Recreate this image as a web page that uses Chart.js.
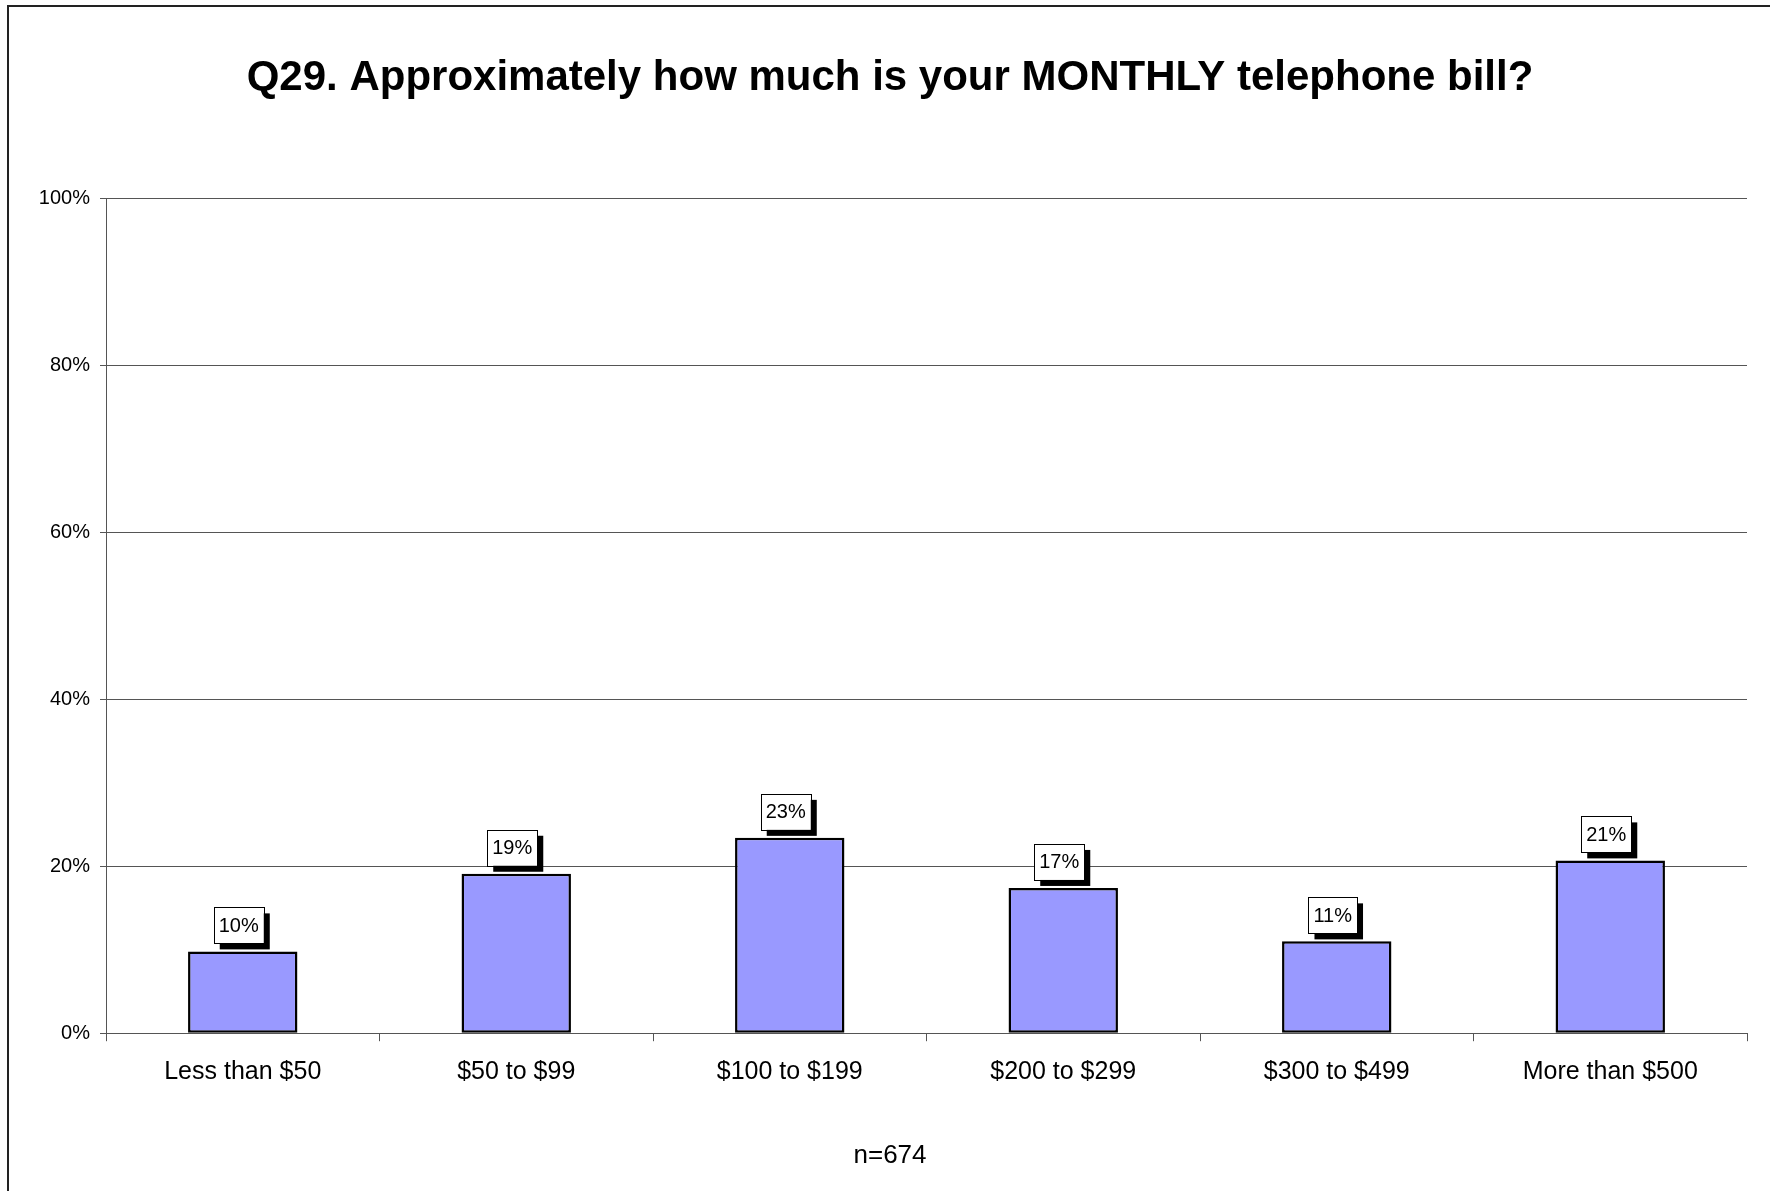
<!DOCTYPE html>
<html>
<head>
<meta charset="utf-8">
<script src="https://cdn.jsdelivr.net/npm/chart.js@4.4.0/dist/chart.umd.min.js"></script>
<style>
    html, body { margin: 0; padding: 0; background: #fff; overflow: hidden; }
    #wrap { width: 1770px; height: 1191px; }
</style>
</head>
<body>
<div id="wrap"><canvas id="chart" width="1770" height="1191"></canvas></div>
<script>
    // values
    var categories = ["Less than $50", "$50 to $99", "$100 to $199", "$200 to $299", "$300 to $499", "More than $500"];
    var shares = [9.8, 19.1, 23.4, 17.4, 11.0, 20.7];
    var yTicks = [0, 20, 40, 60, 80, 100];
    var titleText = "Q29. Approximately how much is your MONTHLY telephone bill?";
    var noteText = "n=674";

    var FONT = "'Liberation Sans', Arial, sans-serif";

    // outer frame, only the left and top edges show in the picture
    var framePlugin = {
        id: "frame",
        beforeDraw: function(chart) {
            var ctx = chart.ctx;
            ctx.save();
            ctx.fillStyle = "#fff";
            ctx.fillRect(0, 0, chart.width, chart.height);
            ctx.strokeStyle = "#222";
            ctx.lineWidth = 2;
            ctx.beginPath();
            ctx.moveTo(8, chart.height);
            ctx.lineTo(8, 6);
            ctx.lineTo(chart.width, 6);
            ctx.stroke();
            ctx.restore();
        }
    };

    // boxed value labels with a black drop shadow
    var boxLabelPlugin = {
        id: "boxLabels",
        afterDatasetsDraw: function(chart) {
            var ctx = chart.ctx;
            var meta = chart.getDatasetMeta(0);
            var data = chart.data.datasets[0].data;
            ctx.save();
            ctx.font = "20px " + FONT;
            ctx.textAlign = "center";
            ctx.textBaseline = "middle";
            meta.data.forEach(function(bar, i) {
                var text = Math.round(data[i]) + "%";
                var w = ctx.measureText(text).width + 10;
                var h = 36;
                var cx = bar.x - 4;
                var y1 = bar.y - 8;
                var x0 = cx - w / 2;
                var y0 = y1 - h;
                ctx.fillStyle = "#000";
                ctx.fillRect(x0 + 6, y0 + 6, w, h);
                ctx.fillStyle = "#fff";
                ctx.fillRect(x0, y0, w, h);
                ctx.strokeStyle = "#000";
                ctx.lineWidth = 1;
                ctx.strokeRect(Math.round(x0) + 0.5, Math.round(y0) + 0.5, Math.round(w), h);
                ctx.fillStyle = "#000";
                ctx.fillText(text, cx, y0 + h / 2 + 1);
            });
            ctx.restore();
        }
    };

    var chart = new Chart(document.getElementById("chart"), {
        type: "bar",
        data: {
            labels: categories,
            datasets: [
                {
                    data: shares,
                    backgroundColor: "#9999FF",
                    borderColor: "#000",
                    borderWidth: 2.5,
                    borderSkipped: false,
                    categoryPercentage: 1.0,
                    barPercentage: 0.4
                }
            ]
        },
        plugins: [framePlugin, boxLabelPlugin],
        options: {
            responsive: false,
            animation: false,
            devicePixelRatio: 1,
            layout: {
                padding: { left: 33, right: 23, top: 0, bottom: 0 }
            },
            plugins: {
                legend: { display: false },
                tooltip: { enabled: false },
                title: {
                    display: true,
                    text: titleText,
                    color: "#000",
                    font: { family: FONT, size: 42, weight: "bold" },
                    padding: { top: 53, bottom: 95 }
                },
                subtitle: {
                    display: true,
                    position: "bottom",
                    text: noteText,
                    color: "#000",
                    font: { family: FONT, size: 26 },
                    padding: { top: 27, bottom: 19.6 }
                }
            },
            scales: {
                x: {
                    offset: true,
                    grid: {
                        offset: true,
                        drawOnChartArea: false,
                        drawTicks: true,
                        tickLength: 8,
                        color: "#555"
                    },
                    border: { color: "#555", width: 1 },
                    ticks: {
                        color: "#000",
                        font: { family: FONT, size: 25 },
                        padding: 16,
                        maxRotation: 0
                    },
                    afterFit: function(scale) {
                        scale.height = 80;
                    }
                },
                y: {
                    min: 0,
                    max: 100,
                    afterBuildTicks: function(scale) {
                        scale.ticks = yTicks.map(function(v) { return { value: v }; });
                    },
                    grid: {
                        color: "#555",
                        tickLength: 6
                    },
                    border: { color: "#555", width: 1 },
                    ticks: {
                        color: "#000",
                        font: { family: FONT, size: 20 },
                        padding: 10,
                        callback: function(value) { return value + "%"; }
                    },
                    afterFit: function(scale) {
                        scale.width = 73;
                    }
                }
            }
        }
    });
</script>
</body>
</html>
